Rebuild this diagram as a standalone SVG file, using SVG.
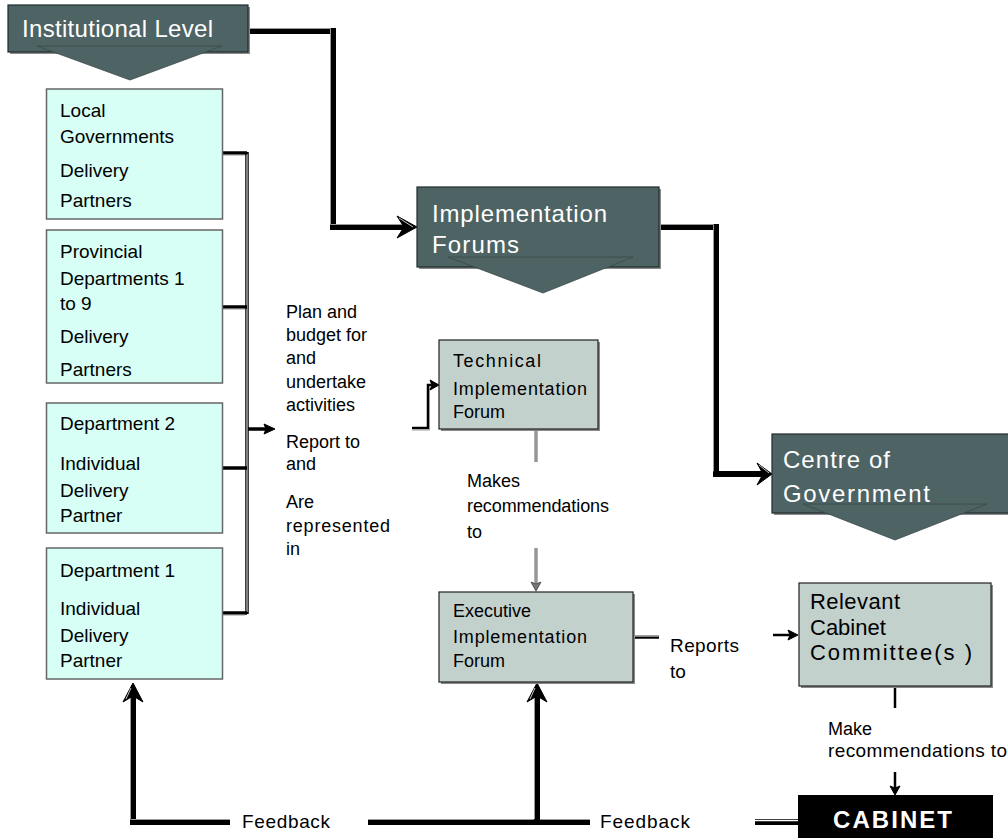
<svg xmlns="http://www.w3.org/2000/svg" width="1008" height="838" viewBox="0 0 1008 838">
<style>
text{font-family:"Liberation Sans",Arial,sans-serif;fill:#000}
.hdr{fill:#fff;font-size:24px}
.bx{font-size:19px}
.mid{font-size:18px}
.fb{font-size:19px}
.gt{font-size:18px}
.rc{font-size:22px}
.cab{fill:#fff;font-size:24px;font-weight:bold}
.dark{fill:#4e6363;stroke:#1e2a2a;stroke-width:1.2}
.tri{fill:#4e6363;stroke:#3a4a4a;stroke-width:0.8}
.cyan{fill:#d7fff6;stroke:#666;stroke-width:1.5}
.grey{fill:#c3d1cd;stroke:#222;stroke-width:1.2}
.shadow{fill:#8a8a8a}
.thk{fill:none;stroke:#000;stroke-width:6;stroke-linejoin:miter}
.thkhl{fill:none;stroke:#9a9a9a;stroke-width:1}
.mdl{fill:none;stroke:#000;stroke-width:3.5}
.mdlhl{fill:none;stroke:#fff;stroke-width:1}
.thn{fill:none;stroke:#000;stroke-width:2.5}
.gl{fill:none;stroke:#666;stroke-width:3}
.head{fill:#000;stroke:#000;stroke-width:1;stroke-linejoin:miter}
.headhl{fill:none;stroke:#c8c8c8;stroke-width:1}
</style>

<g id="connectors">
  <!-- Institutional Level to Implementation Forums -->
  <path class="thk" d="M248,31 H333 V227 H404"/>
  <path class="thkhl" d="M248,28.5 H330.5 V224.5 H404"/>
  <polygon class="head" points="417,227 397,216 404,227 397,238"/>
  <path class="headhl" d="M399,218 L413,227"/>
  <!-- Implementation Forums to Centre of Government -->
  <path class="thk" d="M659,227 H716 V474 H764"/>
  <path class="thkhl" d="M659,224.5 H713.5 V471.5"/>
  <polygon class="head" points="772,474 757,463 763,474 757,485"/>
  <path class="headhl" d="M759,465 L769,473"/>
  <!-- bracket from delivery partners -->
  <path class="mdl" d="M247,152 V614"/>
  <path class="mdlhl" d="M247,154 V612"/>
  <path class="mdl" d="M222,153 H247 M222,307 H247 M222,468 H247 M222,613 H247"/>
  <path fill="none" stroke="#999" stroke-width="1" d="M222,155 H245 M222,309 H245 M222,615 H245"/>
  <path class="mdl" d="M248,429 H266"/>
  <polygon class="head" points="275,429 264,424 266,429 264,434"/>
  <!-- into Technical Implementation Forum -->
  <path class="thn" d="M412,428 H428 V385 H433"/>
  <path fill="none" stroke="#999" stroke-width="1" d="M412,430 H429.5 V387"/>
  <polygon class="head" points="439,385 430,380 432,385 430,390"/>
  <!-- Technical to Executive -->
  <path class="gl" d="M536,429 V462"/>
  <path class="gl" d="M536,548 V584"/>
  <path fill="none" stroke="#ddd" stroke-width="0.8" d="M536,429 V462 M536,548 V584"/>
  <polygon class="head" points="536,591 531,582 536,584 541,582" style="fill:#777;stroke:#555"/>
  <!-- Executive reports to Relevant Committee -->
  <path class="mdl" d="M633,637 H659"/>
  <path class="mdlhl" d="M633,636 H659"/>
  <path class="thn" d="M773,635 H790"/>
  <polygon class="head" points="798,635 788,630 790,635 788,640"/>
  <!-- Relevant Committee to Cabinet -->
  <path class="thn" d="M895,686 V708"/>
  <path class="thn" d="M895,772 V788"/>
  <polygon class="head" points="895,795 890,786 895,788 900,786"/>
  <!-- Feedback lines -->
  <path class="thk" d="M230,822 H133 V694"/>
  <path class="thkhl" d="M230,819.5 H130.5 V694"/>
  <polygon class="head" points="133,683 123,702 133,696 143,702"/>
  <path class="headhl" d="M131,688 L126,699"/>
  <path class="thk" d="M368,822 H590"/>
  <path class="thkhl" d="M368,819.5 H590"/>
  <path class="thk" d="M537,822 V694"/>
  <path class="thkhl" d="M534.5,819 V694"/>
  <polygon class="head" points="537,683 527,702 537,696 547,702"/>
  <path class="headhl" d="M535,688 L530,699"/>
  <path class="thk" d="M755,822 H798"/>
  <path fill="none" stroke="#fff" stroke-width="1.4" d="M755,820.5 H798"/>
  <!-- connector labels -->
  <text class="mid" x="286" y="318">Plan and</text>
  <text class="mid" x="286" y="341">budget for</text>
  <text class="mid" x="286" y="364">and</text>
  <text class="mid" x="286" y="388">undertake</text>
  <text class="mid" x="286" y="411">activities</text>
  <text class="mid" x="286" y="448">Report to</text>
  <text class="mid" x="286" y="470">and</text>
  <text class="mid" x="286" y="508">Are</text>
  <text class="mid" x="286" y="532" textLength="104">represented</text>
  <text class="mid" x="286" y="555">in</text>
  <text class="mid" x="467" y="487">Makes</text>
  <text class="mid" x="467" y="512" textLength="142">recommendations</text>
  <text class="mid" x="467" y="538">to</text>
  <text class="fb" x="670" y="652" textLength="69">Reports</text>
  <text class="fb" x="670" y="678">to</text>
  <text class="mid" x="828" y="735">Make</text>
  <text class="fb" x="828" y="757" textLength="179">recommendations to</text>
  <text class="fb" x="242" y="828" textLength="88">Feedback</text>
  <text class="fb" x="600" y="828" textLength="90">Feedback</text>
</g>

<g id="institutional-level">
  <rect class="shadow" x="10" y="7" width="240" height="47"/>
  <rect class="dark" x="8" y="5" width="240" height="47"/>
  <polygon class="tri" points="37,46 222,46 130,80"/>
  <text class="hdr" x="22" y="37" textLength="191">Institutional Level</text>
</g>

<g id="implementation-forums">
  <rect class="shadow" x="419" y="189" width="242" height="80"/>
  <rect class="dark" x="417" y="187" width="242" height="80"/>
  <polygon class="tri" points="448,257 633,257 543,293"/>
  <text class="hdr" x="432" y="222" textLength="175">Implementation</text>
  <text class="hdr" x="432" y="253" textLength="87">Forums</text>
</g>

<g id="centre-of-government">
  <rect class="shadow" x="774" y="436" width="240" height="79"/>
  <rect class="dark" x="772" y="434" width="240" height="79"/>
  <polygon class="tri" points="803,504 987,504 895,540"/>
  <text class="hdr" x="783" y="468" textLength="107">Centre of</text>
  <text class="hdr" x="783" y="502" textLength="147">Government</text>
</g>

<g id="local-governments">
  <rect class="cyan" x="46.5" y="89" width="176" height="130"/>
  <text class="bx" x="60" y="117">Local</text>
  <text class="bx" x="60" y="143">Governments</text>
  <text class="bx" x="60" y="177">Delivery</text>
  <text class="bx" x="60" y="207">Partners</text>
</g>

<g id="provincial-departments">
  <rect class="cyan" x="46.5" y="230" width="176" height="153"/>
  <text class="bx" x="60" y="258">Provincial</text>
  <text class="bx" x="60" y="285">Departments 1</text>
  <text class="bx" x="60" y="310">to 9</text>
  <text class="bx" x="60" y="343">Delivery</text>
  <text class="bx" x="60" y="376">Partners</text>
</g>

<g id="department-2">
  <rect class="cyan" x="46.5" y="403" width="176" height="130"/>
  <text class="bx" x="60" y="430">Department 2</text>
  <text class="bx" x="60" y="470">Individual</text>
  <text class="bx" x="60" y="497">Delivery</text>
  <text class="bx" x="60" y="522">Partner</text>
</g>

<g id="department-1">
  <rect class="cyan" x="46.5" y="548" width="176" height="131"/>
  <text class="bx" x="60" y="577">Department 1</text>
  <text class="bx" x="60" y="615">Individual</text>
  <text class="bx" x="60" y="642">Delivery</text>
  <text class="bx" x="60" y="667">Partner</text>
</g>

<g id="technical-forum">
  <rect class="shadow" x="441" y="342" width="159" height="89"/>
  <rect class="grey" x="439" y="340" width="159" height="89"/>
  <text class="gt" x="453" y="367" textLength="88">Technical</text>
  <text class="gt" x="453" y="395" textLength="134">Implementation</text>
  <text class="gt" x="453" y="418">Forum</text>
</g>

<g id="executive-forum">
  <rect class="shadow" x="441" y="594" width="194" height="90"/>
  <rect class="grey" x="439" y="592" width="194" height="90"/>
  <text class="gt" x="453" y="617">Executive</text>
  <text class="gt" x="453" y="643" textLength="134">Implementation</text>
  <text class="gt" x="453" y="667">Forum</text>
</g>

<g id="cabinet-committee">
  <rect class="shadow" x="801" y="585" width="192" height="103"/>
  <rect class="grey" x="799" y="583" width="192" height="103"/>
  <text class="rc" x="810" y="609" textLength="90">Relevant</text>
  <text class="rc" x="810" y="635">Cabinet</text>
  <text class="rc" x="810" y="660" textLength="162">Committee(s )</text>
</g>

<g id="cabinet">
  <rect x="798" y="795" width="195" height="50" fill="#000"/>
  <text class="cab" x="833" y="828" textLength="119">CABINET</text>
</g>
</svg>
